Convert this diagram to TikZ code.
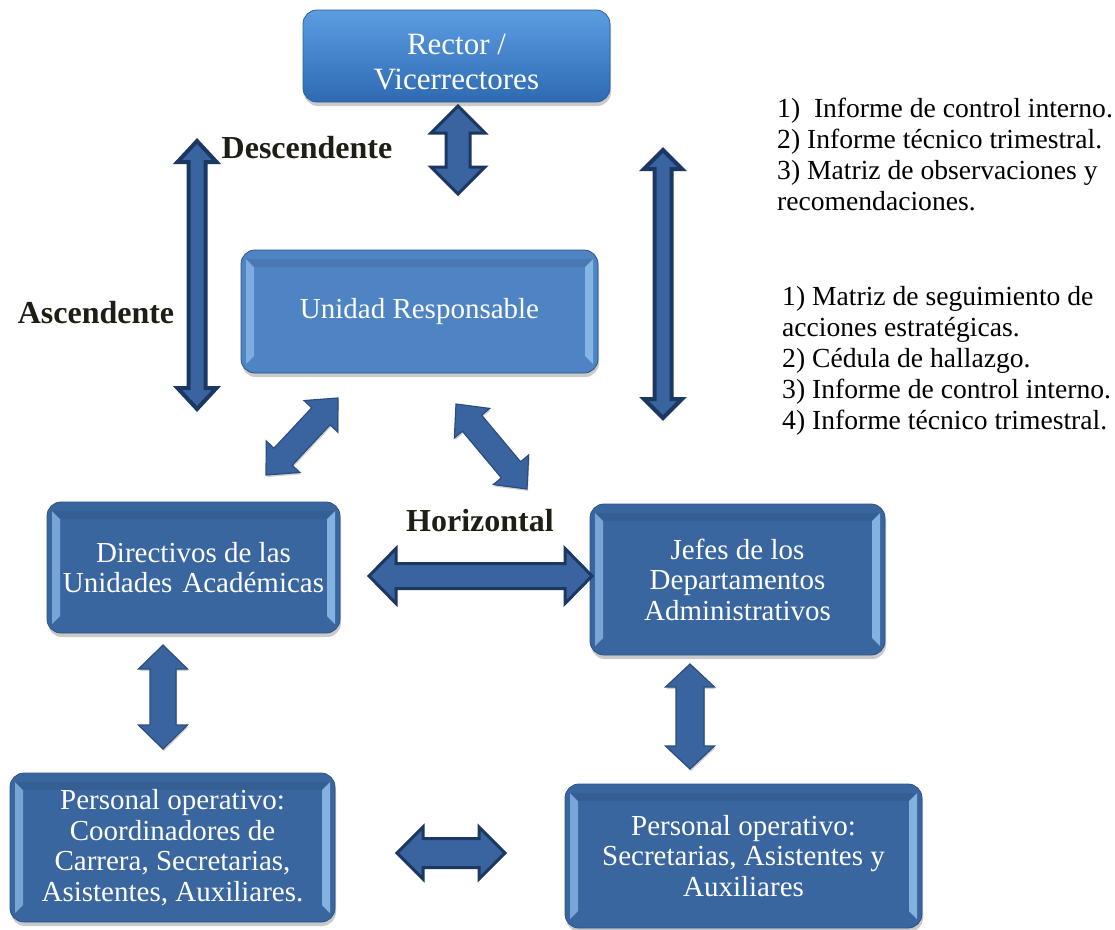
\documentclass[tikz,border=0pt]{standalone}
\usepackage{fontspec}
\setmainfont{Liberation Serif}
\usetikzlibrary{calc,shadows}
\definecolor{boxblue}{HTML}{3A66A0}
\definecolor{boxedge}{HTML}{2C5386}
\definecolor{unidblue}{HTML}{4F84C4}
\definecolor{bevellight}{HTML}{8DBBE8}
\definecolor{arrfill}{HTML}{3A64A0}
\definecolor{arredge}{HTML}{1B3762}
\definecolor{arredgesoft}{HTML}{2B4D7E}
\definecolor{lbltext}{HTML}{1E1E14}
\definecolor{rectortop}{HTML}{5C9DE2}
\definecolor{rectorbot}{HTML}{2D6AB2}
\definecolor{rectoredge}{HTML}{2B5F9E}
\newcommand\blkarrow[6]{%
  \draw[#1] (#2)
   -- ($(#2)!#6!(#3)!#5!90:(#3)$)
   -- ($(#2)!#6!(#3)!#4!90:(#3)$)
   -- ($(#3)!#6!(#2)!#4!-90:(#2)$)
   -- ($(#3)!#6!(#2)!#5!-90:(#2)$)
   -- (#3)
   -- ($(#3)!#6!(#2)!#5!90:(#2)$)
   -- ($(#3)!#6!(#2)!#4!90:(#2)$)
   -- ($(#2)!#6!(#3)!#4!-90:(#3)$)
   -- ($(#2)!#6!(#3)!#5!-90:(#3)$)
   -- cycle;}
\begin{document}
\begin{tikzpicture}[x=1pt,y=-1pt,
  box/.style={rounded corners=14pt, draw=boxedge, line width=0.8pt, text=white,
    font=\fontsize{29}{30.5}\selectfont, align=center, inner sep=0pt,
    drop shadow={shadow xshift=1pt, shadow yshift=-4pt, opacity=0.35, fill=black!60}},
  bevel/.style={sharp corners, fill=bevellight, opacity=0.75},
  bevelled/.style={path picture={
    \fill[bevel] ($(path picture bounding box.north west)+(5,9)$)
      -- ($(path picture bounding box.north west)+(13,17)$)
      -- ($(path picture bounding box.south west)+(13,-17)$)
      -- ($(path picture bounding box.south west)+(5,-9)$) -- cycle;
    \fill[bevel, opacity=0.9] ($(path picture bounding box.north east)+(-5,9)$)
      -- ($(path picture bounding box.north east)+(-13,17)$)
      -- ($(path picture bounding box.south east)+(-13,-17)$)
      -- ($(path picture bounding box.south east)+(-5,-9)$) -- cycle;
    \fill[sharp corners, black, opacity=0.08] ($(path picture bounding box.north west)+(5,9)$)
      -- ($(path picture bounding box.north east)+(-5,9)$)
      -- ($(path picture bounding box.north east)+(-13,17)$)
      -- ($(path picture bounding box.north west)+(13,17)$) -- cycle;
  }},
  darkbox/.style={box, fill=boxblue, bevelled},
  lbl/.style={font=\fontsize{32}{34}\selectfont\bfseries, text=lbltext, inner sep=0pt},
  note/.style={font=\fontsize{27.6}{31}\selectfont, text=black, align=left, inner sep=0pt, anchor=west},
  heavyarrow/.style={fill=arrfill, draw=arredge, line width=3pt, line join=miter, miter limit=10},
  longarrow/.style={fill=arrfill, draw=arredge, line width=4pt, line join=miter, miter limit=10},
  softarrow/.style={fill=arrfill, draw=arredgesoft, line width=1.2pt, line join=miter,
    drop shadow={shadow xshift=1pt, shadow yshift=-2pt, opacity=0.3, fill=black!60}}
]
\useasboundingbox (0,0) rectangle (1115,929);

% boxes
\node[box, top color=rectortop, bottom color=rectorbot, draw=rectoredge,
      font=\fontsize{31}{35}\selectfont, minimum width=307pt, minimum height=92pt]
      (rector) at (456.5,56) {\raisebox{-15pt}[0pt][0pt]{\begin{tabular}{@{}c@{}}Rector /\\Vicerrectores\end{tabular}}};
\node[box, fill=unidblue, bevelled, minimum width=357pt, minimum height=123pt]
      (unidad) at (419.5,311.5) {Unidad Responsable};
\node[darkbox, minimum width=293pt, minimum height=131pt]
      (dir) at (193.5,567.5) {Directivos de las\\Unidades\hspace{10pt}Académicas};
\node[darkbox, minimum width=295pt, minimum height=151pt]
      (jefes) at (737.5,579.5) {Jefes de los\\Departamentos\\Administrativos};
\node[darkbox, minimum width=325pt, minimum height=149pt]
      (pl) at (172.5,847.5) {Personal operativo:\\Coordinadores de\\Carrera, Secretarias,\\Asistentes,\ Auxiliares.};
\node[darkbox, minimum width=357pt, minimum height=144pt]
      (pr) at (743.5,856) {Personal operativo:\\Secretarias, Asistentes\ y\\Auxiliares};

% labels
\node[lbl] (desc) at (307,148) {Descendente};
\node[lbl] (asc) at (96,313) {Ascendente};
\node[lbl] (hor) at (480,521) {Horizontal};

\node[note] (n1) at (777,154) {1)\ \ Informe de control interno.\\2) Informe técnico trimestral.\\3) Matriz de observaciones y\\recomendaciones.};
\node[note] (n2) at (782,361) {1) Matriz de seguimiento de\\acciones estratégicas.\\2) Cédula de hallazgo.\\3) Informe de control interno.\\4) Informe técnico trimestral.};

% arrow end points
\coordinate (t1) at (458,106);
\coordinate (t2) at (458,194);
\coordinate (l1) at (197,141);
\coordinate (l2) at (197,409);
\coordinate (r1) at (663,150);
\coordinate (r2) at (663,418);
\coordinate (dl1) at (266,475);
\coordinate (dl2) at (338,398);
\coordinate (dr1) at (456,404);
\coordinate (dr2) at (527,489);
\coordinate (h1) at (369,576);
\coordinate (h2) at (592,576);
\coordinate (vl1) at (163,645);
\coordinate (vl2) at (163,749);
\coordinate (vr1) at (690,664);
\coordinate (vr2) at (690,769);
\coordinate (b1) at (397,853);
\coordinate (b2) at (505,853);

% arrows
\blkarrow{heavyarrow}{t1}{t2}{12pt}{27pt}{27pt}
\blkarrow{longarrow}{l1}{l2}{8.5pt}{19.5pt}{21pt}
\blkarrow{longarrow}{r1}{r2}{8.5pt}{19pt}{19pt}
\blkarrow{softarrow}{dl1}{dl2}{12.5pt}{23pt}{25pt}
\blkarrow{softarrow}{dr1}{dr2}{12.5pt}{23pt}{25pt}
\blkarrow{heavyarrow}{h1}{h2}{12.5pt}{27.5pt}{27pt}
\blkarrow{softarrow}{vl1}{vl2}{13pt}{24.5pt}{24pt}
\blkarrow{softarrow}{vr1}{vr2}{14pt}{24.5pt}{23pt}
\blkarrow{heavyarrow}{b1}{b2}{14.5pt}{26pt}{26pt}
\end{tikzpicture}
\end{document}
